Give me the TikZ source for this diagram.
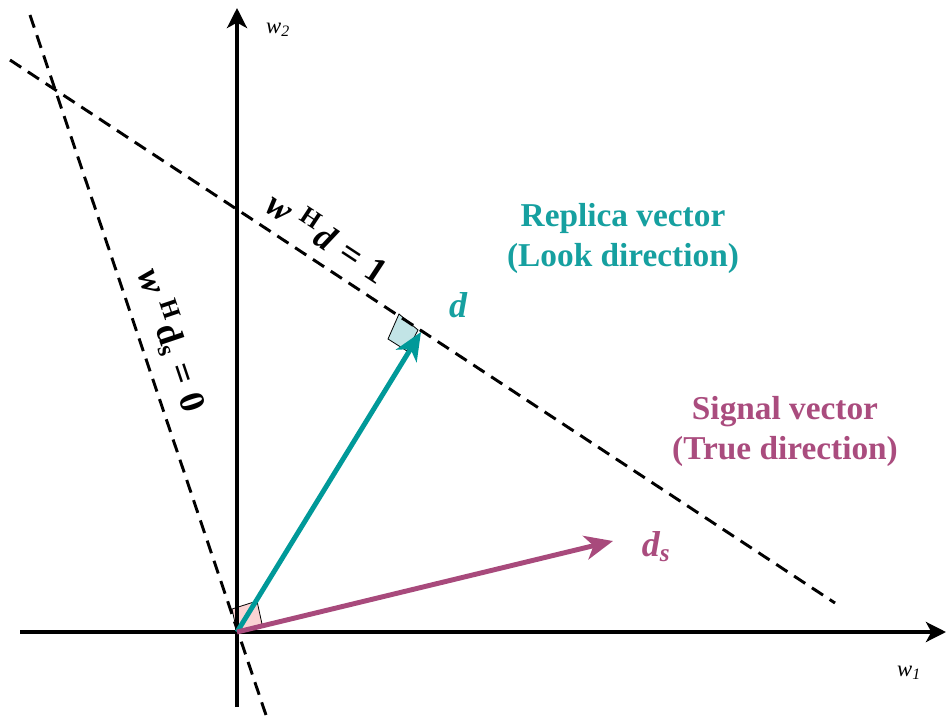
\documentclass[tikz,border=0pt]{standalone}
\usepackage{fontspec}
\setmainfont{Liberation Serif}
\usetikzlibrary{arrows.meta}
\definecolor{myteal}{HTML}{009999}
\definecolor{tealtxt}{HTML}{16A0A0}
\definecolor{mymag}{HTML}{A84A7C}
\definecolor{magtxt}{HTML}{AA4C7E}
\definecolor{sqcyan}{HTML}{C2E4E6}
\definecolor{sqpink}{HTML}{FAD4D4}
\begin{document}
\begin{tikzpicture}[x=0.75pt,y=-0.75pt,
  axisline/.style={line width=3pt,-{Stealth[length=15pt,width=15pt,inset=4pt]}},
  vecline/.style={line width=3.7pt,-{Stealth[length=21pt,width=18pt,inset=6pt]}},
  dashline/.style={line width=2.2pt,dash pattern=on 10pt off 6pt},
  sqmark/.style={draw=black,line width=0.6pt},
  bigtxt/.style={font=\bfseries\fontsize{25}{30}\selectfont,align=center},
  eqtxt/.style={font=\fontsize{27}{32}\selectfont,inner sep=0pt},
  axtxt/.style={font=\fontsize{17}{20}\selectfont}]
\useasboundingbox[fill=white] (0,0) rectangle (946,721);
% coordinates
\coordinate (O) at (237,632);
\coordinate (xl) at (20,632);
\coordinate (xr) at (946,632);
\coordinate (yb) at (237,707);
\coordinate (yt) at (237,8);
\coordinate (D) at (421,332);
\coordinate (Ds) at (613,541);
\coordinate (L1a) at (10,60);
\coordinate (L1b) at (835,603);
\coordinate (L2a) at (30,15);
\coordinate (L2b) at (268,721);
% right-angle marks
\filldraw[sqmark,fill=sqcyan] (418,330) -- (399,314) -- (388,339) -- (407,351) -- cycle;
\filldraw[sqmark,fill=sqpink] (O) -- (232,609) -- (257,601) -- (262,624) -- cycle;
% axes
\draw[axisline] (xl) -- (xr);
\draw[axisline] (yb) -- (yt);
% dashed lines
\draw[dashline] (L1a) -- (L1b);
\draw[dashline] (L2a) -- (L2b);
% vectors
\draw[vecline,myteal] (O) -- (D);
\draw[vecline,mymag] (O) -- (Ds);
% labels
\node[axtxt] (w2) at (278,30) {\textit{w}\textsubscript{\textit{2}}};
\node[axtxt] (w1) at (909,673) {\textit{w}\textsubscript{\textit{1}}};
\node[eqtxt,rotate=-33.3] (eq1) at (328,236) {\textbf{\textit{w}}\hspace{0.3em}\textsuperscript{\textbf{H}}\hspace{0.08em}\textbf{\textit{d}}\hspace{0.3em}\textbf{=}\hspace{0.3em}\textbf{1}};
\node[eqtxt,rotate=-71.4] (eq2) at (172,340) {\textbf{\textit{w}}\hspace{0.3em}\textsuperscript{\textbf{H}}\hspace{0.08em}\textbf{d}\textsubscript{\textbf{s}}\hspace{0.3em}\textbf{=}\hspace{0.3em}\textbf{0}};
\node[font=\bfseries\itshape\fontsize{27}{32}\selectfont,text=tealtxt] (dl) at (458,305) {d};
\node[font=\bfseries\itshape\fontsize{27}{32}\selectfont,text=magtxt] (dsl) at (656,547) {d\textsubscript{s}};
\node[bigtxt,text=tealtxt] (rep) at (623,238) {Replica vector\\(Look direction)};
\node[bigtxt,text=magtxt] (sig) at (785,431) {Signal vector\\(True direction)};
\end{tikzpicture}
\end{document}
